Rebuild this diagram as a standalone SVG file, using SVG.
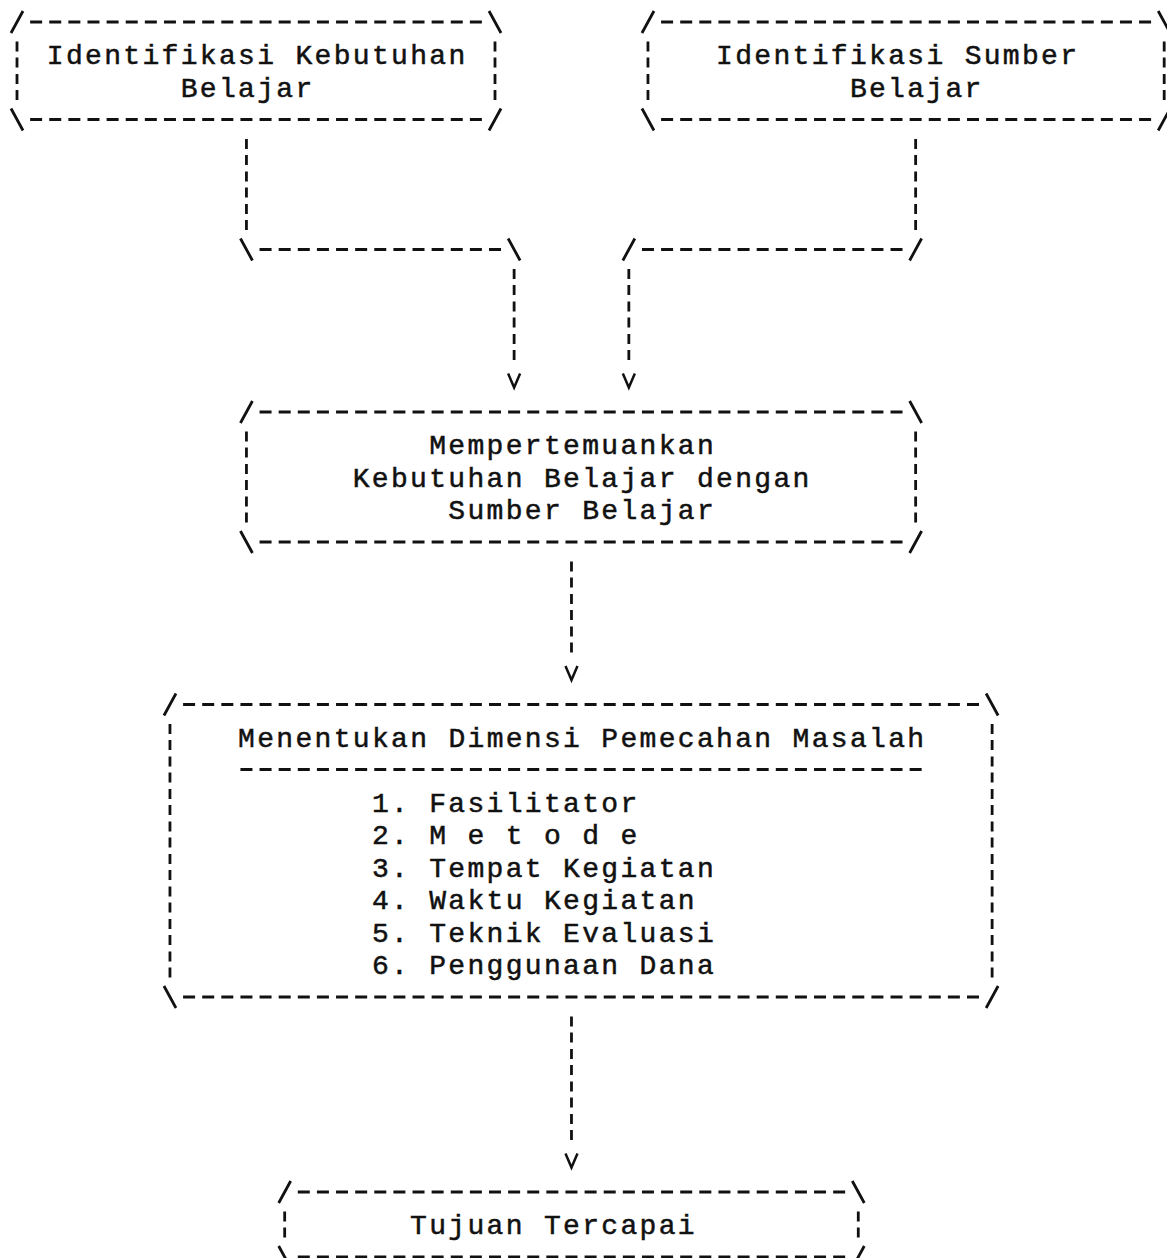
<svg xmlns="http://www.w3.org/2000/svg" xmlns:xlink="http://www.w3.org/1999/xlink" width="1167" height="1258" viewBox="0 0 1167 1258">
<style>
.s{fill:none;stroke:#111;stroke-width:2.8;stroke-linecap:butt}
.h{fill:none;stroke:#111;stroke-width:2.8;stroke-dasharray:12 7.12}
.v{fill:none;stroke:#111;stroke-width:2.8;stroke-dasharray:10 6 10 6.5}
.t{font-family:"Liberation Mono","DejaVu Sans Mono",monospace;font-size:28px;letter-spacing:2.32px;fill:#111;stroke:#111;stroke-width:0.5}
</style>
<defs>
<path id="vh" d="M-6,-6 L0,8 L6,-6" fill="none" stroke="#111" stroke-width="2.5"/>
</defs>
<rect width="1167" height="1258" fill="#fff"/>
<g id="node-kebutuhan">
<path class="s" d="M11,33 L23,11 M489,11 L501,33 M11,108.5 L23,130.5 M489,130.5 L501,108.5"/>
<path class="h" d="M30.12,22 H481.88 M30.12,119.5 H481.88"/>
<path class="v" d="M17,41.5 V100 M495,41.5 V100"/>
<text class="t" x="46.84" y="64">Identifikasi Kebutuhan</text>
<text class="t" x="180.68" y="96.5">Belajar</text>
</g>
<g id="node-sumber">
<path class="s" d="M641.96,33 L653.96,11 M1158.2,11 L1170.2,33 M641.96,108.5 L653.96,130.5 M1158.2,130.5 L1170.2,108.5"/>
<path class="h" d="M661.08,22 H1151.08 M661.08,119.5 H1151.08"/>
<path class="v" d="M647.96,41.5 V100 M1164.2,41.5 V100"/>
<text class="t" x="716.04" y="64">Identifikasi Sumber</text>
<text class="t" x="849.88" y="96.5">Belajar</text>
</g>
<g id="node-mempertemukan">
<path class="s" d="M240.44,423 L252.44,401 M909.64,401 L921.64,423 M240.44,531 L252.44,553 M909.64,553 L921.64,531"/>
<path class="h" d="M259.56,412 H902.52 M259.56,542 H902.52"/>
<path class="v" d="M246.44,431.5 V522.5 M915.64,431.5 V522.5"/>
<text class="t" x="429.24" y="454">Mempertemuankan</text>
<text class="t" x="352.76" y="486.5">Kebutuhan Belajar dengan</text>
<text class="t" x="448.36" y="519">Sumber Belajar</text>
</g>
<g id="node-dimensi">
<path class="s" d="M163.96,715.5 L175.96,693.5 M986.12,693.5 L998.12,715.5 M163.96,986 L175.96,1008 M986.12,1008 L998.12,986"/>
<path class="h" d="M183.08,704.5 H979 M183.08,997 H979 M240.44,769.5 H921.64"/>
<path class="v" d="M169.96,724 V977.5 M992.12,724 V977.5"/>
<text class="t" x="238.04" y="746.5">Menentukan Dimensi Pemecahan Masalah</text>
<text class="t" x="371.88" y="811.5">1. Fasilitator</text>
<text class="t" x="371.88" y="844">2. M e t o d e</text>
<text class="t" x="371.88" y="876.5">3. Tempat Kegiatan</text>
<text class="t" x="371.88" y="909">4. Waktu Kegiatan</text>
<text class="t" x="371.88" y="941.5">5. Teknik Evaluasi</text>
<text class="t" x="371.88" y="974">6. Penggunaan Dana</text>
</g>
<g id="node-tujuan">
<path class="s" d="M278.68,1203 L290.68,1181 M852.28,1181 L864.28,1203 M278.68,1246 L290.68,1268 M852.28,1268 L864.28,1246"/>
<path class="h" d="M297.8,1192 H845.16 M297.8,1257 H845.16"/>
<path class="v" d="M284.68,1211.5 V1237.5 M858.28,1211.5 V1237.5"/>
<text class="t" x="410.12" y="1234">Tujuan Tercapai</text>
</g>
<g id="connectors">
<path class="v" d="M246.44,139 V230 M514.12,269 V360 M915.64,139 V230 M628.84,269 V360 M571.48,561.5 V652.5 M571.48,1016.5 V1140"/>
<path class="s" d="M240.44,238.5 L252.44,260.5 M508.12,238.5 L520.12,260.5 M909.64,260.5 L921.64,238.5 M622.84,260.5 L634.84,238.5"/>
<path class="h" d="M259.56,249.5 H501 M641.96,249.5 H902.52"/>
<use xlink:href="#vh" x="514.12" y="379.5"/>
<use xlink:href="#vh" x="628.84" y="379.5"/>
<use xlink:href="#vh" x="571.48" y="672"/>
<use xlink:href="#vh" x="571.48" y="1159.5"/>
</g>
</svg>
